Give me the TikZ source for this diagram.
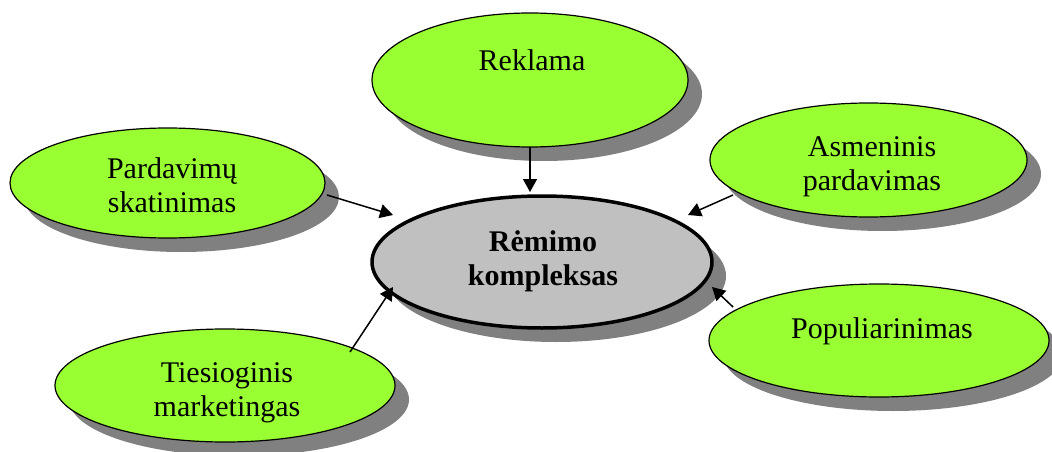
\documentclass[tikz,border=0pt]{standalone}
\usepackage{fontspec}
\setmainfont{Liberation Serif}
\usetikzlibrary{shapes.geometric,shadows,arrows.meta,calc}
\definecolor{lgreen}{HTML}{99FF33}
\definecolor{mgray}{HTML}{C0C0C0}
\definecolor{sgray}{HTML}{808080}
\tikzset{
  ell/.style={ellipse, inner sep=0pt, outer sep=0pt, draw=black, line width=1.2pt, fill=lgreen,
    drop shadow={shadow xshift=14pt, shadow yshift=-14pt, fill=sgray, opacity=1}},
  mainell/.style={ell, fill=mgray, line width=3.5pt},
  lbl/.style={align=center, inner sep=0pt, font=\fontsize{30}{34}\selectfont},
  boldlbl/.style={lbl, font=\fontsize{30}{34}\selectfont\bfseries},
  arr/.style={line width=1.5pt, -{Triangle[length=13pt,width=14pt]}}
}
\begin{document}
\begin{tikzpicture}[x=1pt,y=-1pt]
\useasboundingbox (0,0) rectangle (1052,452);
% ellipses
\node[mainell, minimum width=340pt, minimum height=132pt] (main) at (542,262) {};
\node[ell, minimum width=316pt, minimum height=134pt] (rek) at (530,80) {};
\node[ell, minimum width=315pt, minimum height=110pt] (par) at (167.5,183) {};
\node[ell, minimum width=317pt, minimum height=114pt] (asm) at (868.5,160) {};
\node[ell, minimum width=340pt, minimum height=113pt] (tie) at (225,385.5) {};
\node[ell, minimum width=340pt, minimum height=113pt] (pop) at (879,340.5) {};
% texts
\node[boldlbl] (mainT) at (543,262) {\strut Rėmimo\\\strut kompleksas};
\node[lbl] (rekT) at (532,64) {\strut Reklama};
\node[lbl] (parT) at (172,189) {\strut Pardavimų\\\strut skatinimas};
\node[lbl] (asmT) at (872,167) {\strut Asmeninis\\\strut pardavimas};
\node[lbl] (tieT) at (227,393) {\strut Tiesioginis\\\strut marketingas};
\node[lbl] (popT) at (882,332) {\strut Populiarinimas};
% arrows
\draw[arr] (rek.south) -- ($(main.center)+(-12,-70)$);
\draw[arr] ($(par.center)+(159.5,12)$) -- ($(main.center)+(-149,-47)$);
\draw[arr] ($(asm.center)+(-135.5,35)$) -- ($(main.center)+(146,-47)$);
\draw[arr] ($(tie.center)+(125,-33.5)$) -- ($(main.center)+(-149,25)$);
\draw[arr] ($(pop.center)+(-146,-33.5)$) -- ($(main.center)+(170,25)$);
\end{tikzpicture}
\end{document}
